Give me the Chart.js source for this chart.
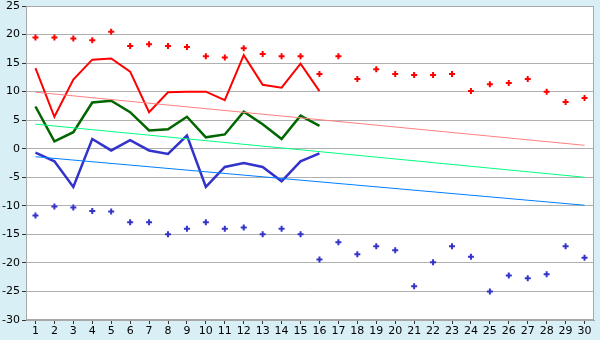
<!DOCTYPE html>
<html><head><meta charset="utf-8">
<script src="https://cdn.jsdelivr.net/npm/chart.js@4/dist/chart.umd.min.js"></script>
<style>html,body{margin:0;padding:0;background:#d9eff6;}#wrap{width:600px;height:340px;}</style>
</head><body><div id="wrap"><canvas id="c" width="600" height="340"></canvas></div>
<script>
const days = ["1","2","3","4","5","6","7","8","9","10","11","12","13","14","15","16","17","18","19","20","21","22","23","24","25","26","27","28","29","30"];
const recordHigh = [19.5,19.5,19.3,19.0,20.5,18.0,18.3,18.0,17.8,16.2,16.0,17.6,16.6,16.2,16.2,13.1,16.2,12.2,13.9,13.1,12.9,12.9,13.1,10.1,11.3,11.5,12.2,10.0,8.2,8.9];
const recordLow = [-11.7,-10.1,-10.3,-10.9,-11.0,-12.9,-12.9,-15.0,-14.0,-12.9,-14.0,-13.8,-15.0,-14.0,-15.0,-19.4,-16.4,-18.5,-17.1,-17.8,-24.1,-19.9,-17.1,-18.9,-25.0,-22.2,-22.7,-22.0,-17.1,-19.1];
const dailyMax = [14.1,5.6,12.1,15.6,15.8,13.5,6.4,9.9,10.0,10.0,8.5,16.4,11.2,10.7,14.9,10.1];
const dailyMean = [7.4,1.3,2.9,8.1,8.4,6.4,3.2,3.4,5.6,2.0,2.5,6.5,4.3,1.7,5.8,4.0];
const dailyMin = [-0.7,-2.2,-6.7,1.7,-0.3,1.5,-0.3,-0.9,2.3,-6.7,-3.2,-2.5,-3.2,-5.7,-2.2,-0.8];
const normalMax = [9.9,0.6];
const normalMean = [4.3,-5.0];
const normalMin = [-1.4,-9.9];
const yTicks = {min:-30, max:25, step:5};

function pad(arr){ const a = days.map(()=>null); arr.forEach((v,i)=>a[i]=v); return a; }
function ends(pair){ const a = days.map(()=>null); a[0]=pair[0]; a[days.length-1]=pair[1]; return a; }

const frame = {
  id:'frame',
  beforeDraw(ch){ const {ctx,chartArea:a}=ch; ctx.save(); ctx.fillStyle='#ffffff'; ctx.fillRect(a.left,a.top,a.right-a.left,a.bottom-a.top); ctx.restore(); },
  afterDraw(ch){ const {ctx,chartArea:a}=ch; ctx.save(); ctx.strokeStyle='#a8a8a8'; ctx.lineWidth=1; ctx.strokeRect(a.left+0.5,a.top+0.5,a.right-a.left-1,a.bottom-a.top-1); ctx.restore(); }
};

new Chart(document.getElementById('c'), {
  type:'line',
  data:{ labels:days, datasets:[
    {data:ends(normalMax), borderColor:'#ff8080', borderWidth:1, pointRadius:0, spanGaps:true},
    {data:ends(normalMean), borderColor:'#00ff80', borderWidth:1, pointRadius:0, spanGaps:true},
    {data:ends(normalMin), borderColor:'#0080ff', borderWidth:1, pointRadius:0, spanGaps:true},
    {data:pad(dailyMax), borderColor:'#ff0000', borderWidth:2, pointRadius:0},
    {data:pad(dailyMean), borderColor:'#006600', borderWidth:2.5, pointRadius:0},
    {data:pad(dailyMin), borderColor:'#3333cc', borderWidth:2.5, pointRadius:0},
    {data:recordHigh, showLine:false, pointStyle:'cross', pointRadius:3, borderColor:'#ff0000', backgroundColor:'#ff0000', pointBorderWidth:2},
    {data:recordLow, showLine:false, pointStyle:'cross', pointRadius:3, borderColor:'#3333cc', backgroundColor:'#3333cc', pointBorderWidth:2}
  ]},
  options:{
    responsive:false, animation:false,
    layout:{padding:{top:5,right:4,left:0,bottom:0}},
    plugins:{legend:{display:false}, tooltip:{enabled:false}},
    elements:{line:{tension:0}},
    scales:{
      x:{ offset:true,
        grid:{display:true, drawOnChartArea:false, drawTicks:true, tickLength:4, tickColor:'#333', offset:false},
        border:{color:'#a8a8a8'},
        ticks:{color:'#000', font:{family:'DejaVu Sans', size:11}, padding:1, maxRotation:0, autoSkip:false},
        afterFit(s){ s.height=20; s.paddingLeft=0; s.paddingRight=0; }
      },
      y:{ min:yTicks.min, max:yTicks.max,
        grid:{color:'#b0b0b0', lineWidth:1, tickLength:4, tickColor:'#333'},
        border:{color:'#a8a8a8'},
        ticks:{stepSize:yTicks.step, color:'#000', font:{family:'DejaVu Sans', size:11}, padding:2},
        afterFit(s){ s.width=26; s.paddingTop=0; s.paddingBottom=0; }
      }
    }
  },
  plugins:[frame]
});
</script></body></html>
